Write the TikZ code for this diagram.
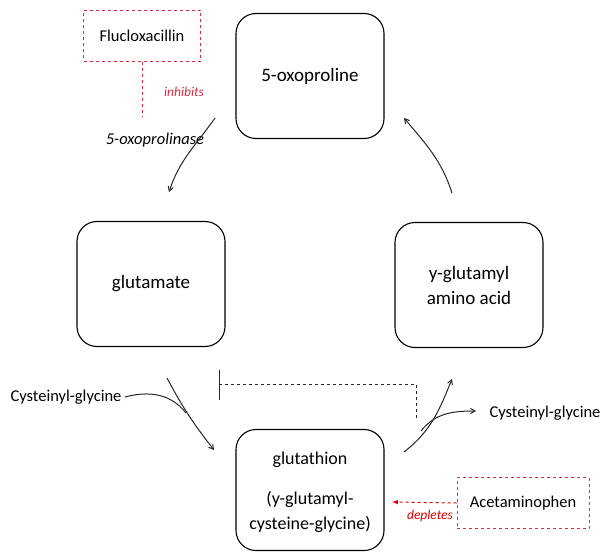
\documentclass[tikz,border=0pt]{standalone}
\usepackage{fontspec}
\setmainfont{Carlito}
\usetikzlibrary{positioning, arrows}
\definecolor{dashred}{RGB}{215,45,65}
\tikzset{
    >=angle 60,
    x=1pt, y=-1pt,
    every node/.style={font=\fontsize{16.5}{19}\selectfont},
    step box/.style={draw, line width=1.1pt, rounded corners=20pt, minimum width=148pt, minimum height=125pt, align=center, font=\fontsize{19}{25}\selectfont},
    drug box/.style={draw=dashred, dashed, line width=1pt, minimum width=117pt, minimum height=51pt},
    flow/.style={->, line width=1pt, black!85},
    note/.style={font=\fontsize{13.5}{16}\selectfont\itshape, text=dashred}
}
\begin{document}
\begin{tikzpicture}
    \useasboundingbox (0,0) rectangle (602,556);
    % the four steps of the cycle
        \node[step box] (oxo) at (310,76) {5-oxoproline};
        \node[step box] (glu) at (151,284) {glutamate};
        \node[step box] (gaa) at (469,285) {y-glutamyl\\amino acid};
        \node[step box, minimum height=121pt] (gsh) at (310,490) {};
        \node[font=\fontsize{18}{25}\selectfont] (gsh1) at (310,460) {glutathion};
        \node[align=center, font=\fontsize{18}{25}\selectfont] (gsh2) at (310,512) {(y-glutamyl-\\cysteine-glycine)};
    % drugs
        \node[drug box] (flu) at (142,36) {Flucloxacillin};
        \node[drug box, minimum width=132pt] (acet) at (523,503) {Acetaminophen};
        \node[note] (inh) at (184,92) {inhibits};
        \node[font=\fontsize{16.5}{19}\selectfont\itshape] (enz) at (155,140) {5-oxoprolinase};
        \node[note, text=red!90!black] (depl) at (430,516) {depletes};
        \node (cgl) at (66,397) {Cysteinyl-glycine};
        \node (cgr) at (545,413) {Cysteinyl-glycine};
    % free ends of the arrows
        \coordinate (a1) at (215,118);  \coordinate (a2) at (169,192);
        \coordinate (b1) at (452,193);  \coordinate (b2) at (404,118);
        \coordinate (c1) at (167,378);  \coordinate (c2) at (214,450);
        \coordinate (c3) at (186,413);
        \coordinate (d1) at (404,452);  \coordinate (d2) at (452,379);
        \coordinate (d3) at (421,431);  \coordinate (d4) at (476,411);
        \coordinate (t1) at (219,370);  \coordinate (t2) at (219,400);
        \coordinate (t3) at (219,384);  \coordinate (t4) at (416,420);
        \coordinate (f1) at (142,117);
        \coordinate (e1) at (392,502);

        \draw[flow] (a1) to[out=-125, in=72] (a2);
        \draw[flow] (b1) to[out=108, in=-50] (b2);
        \draw[flow] (c1) to[out=-62, in=128] (c2);
        \draw[line width=1pt, black!85] (cgl.east) to[out=15, in=128] (c3);
        \draw[flow] (d1) to[out=38, in=-112] (d2);
        \draw[flow] (d3) to[out=52, in=180] (d4);
        \draw[line width=1pt, black!85] (t1) -- (t2);
        \draw[line width=1pt, dashed, black!85] (t3) -| (t4);
        \draw[line width=1pt, dashed, dashred] (flu.south) -- (f1);
        \draw[line width=1pt, dashed, red!90!black, -latex] (acet.west) -- (e1);

    \end{tikzpicture}
\end{document}
